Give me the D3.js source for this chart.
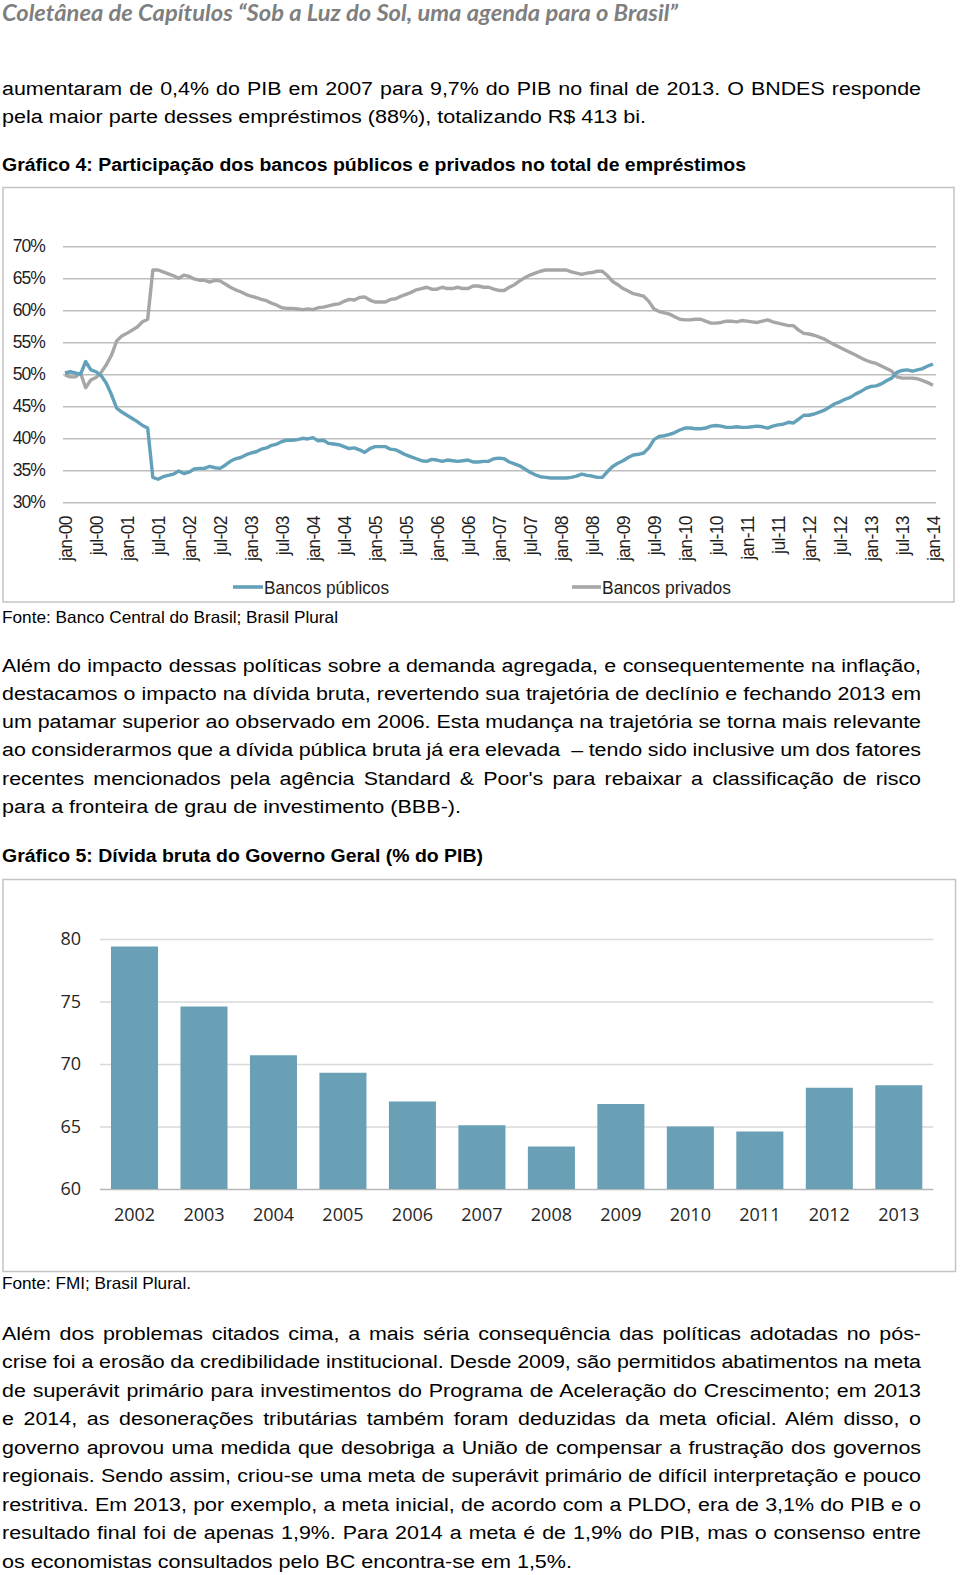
<!DOCTYPE html>
<html><head><meta charset="utf-8">
<script src="https://cdn.jsdelivr.net/npm/d3@7"></script>
<style>
body{margin:0;background:#fff}
svg text{white-space:pre}
</style></head>
<body>
<script>
// ---------- DATA ----------
const headerText = "Coletânea de Capítulos “Sob a Luz do Sol, uma agenda para o Brasil”";
const para1 = [
 "aumentaram de 0,4% do PIB em 2007 para 9,7% do PIB no final de 2013. O BNDES responde",
 "pela maior parte desses empréstimos (88%), totalizando R$ 413 bi."
];
const title4 = "Gráfico 4: Participação dos bancos públicos e privados no total de empréstimos";
const source4 = "Fonte: Banco Central do Brasil; Brasil Plural";
const para2 = [
 "Além do impacto dessas políticas sobre a demanda agregada, e consequentemente na inflação,",
 "destacamos o impacto na dívida bruta, revertendo sua trajetória de declínio e fechando 2013 em",
 "um patamar superior ao observado em 2006. Esta mudança na trajetória se torna mais relevante",
 "ao considerarmos que a dívida pública bruta já era elevada  – tendo sido inclusive um dos fatores",
 "recentes mencionados pela agência Standard & Poor's para rebaixar a classificação de risco",
 "para a fronteira de grau de investimento (BBB-)."
];
const title5 = "Gráfico 5: Dívida bruta do Governo Geral (% do PIB)";
const source5 = "Fonte: FMI; Brasil Plural.";
const para3 = [
 "Além dos problemas citados cima, a mais séria consequência das políticas adotadas no pós-",
 "crise foi a erosão da credibilidade institucional. Desde 2009, são permitidos abatimentos na meta",
 "de superávit primário para investimentos do Programa de Aceleração do Crescimento; em 2013",
 "e 2014, as desonerações tributárias também foram deduzidas da meta oficial. Além disso, o",
 "governo aprovou uma medida que desobriga a União de compensar a frustração dos governos",
 "regionais. Sendo assim, criou-se uma meta de superávit primário de difícil interpretação e pouco",
 "restritiva. Em 2013, por exemplo, a meta inicial, de acordo com a PLDO, era de 3,1% do PIB e o",
 "resultado final foi de apenas 1,9%. Para 2014 a meta é de 1,9% do PIB, mas o consenso entre",
 "os economistas consultados pelo BC encontra-se em 1,5%."
];

// Chart 4: monthly shares jan-00 .. jan-14 (%)
const monthTickLabels = ["jan-00","jul-00","jan-01","jul-01","jan-02","jul-02","jan-03","jul-03","jan-04","jul-04",
 "jan-05","jul-05","jan-06","jul-06","jan-07","jul-07","jan-08","jul-08","jan-09","jul-09",
 "jan-10","jul-10","jan-11","jul-11","jan-12","jul-12","jan-13","jul-13","jan-14"];
const seriesNames = ["Bancos públicos","Bancos privados"];
const publicShare = [
 50.2,50.4,50.2,50.0,52.0,50.7,50.4,49.8,48.6,46.8,44.7,44.1,
 43.6,43.1,42.6,42.0,41.6,33.9,33.6,34.0,34.2,34.4,34.9,34.5,
 34.7,35.2,35.3,35.3,35.6,35.4,35.3,35.8,36.4,36.8,37.0,37.4,
 37.7,37.9,38.3,38.5,38.9,39.1,39.5,39.7,39.7,39.8,40.0,39.9,
 40.1,39.6,39.7,39.2,39.1,39.0,38.7,38.4,38.5,38.2,37.8,38.4,
 38.7,38.7,38.7,38.3,38.2,37.8,37.4,37.1,36.8,36.5,36.4,36.7,
 36.6,36.4,36.6,36.5,36.4,36.5,36.6,36.3,36.3,36.4,36.4,36.8,
 36.9,36.8,36.3,36.0,35.7,35.2,34.7,34.3,34.0,33.9,33.8,33.8,
 33.8,33.8,33.9,34.1,34.4,34.2,34.1,33.9,33.9,34.8,35.6,36.1,
 36.5,37.0,37.4,37.5,37.7,38.5,39.8,40.3,40.4,40.6,40.9,41.3,
 41.6,41.6,41.5,41.5,41.6,41.9,42.0,41.9,41.7,41.7,41.8,41.7,
 41.7,41.8,41.9,41.8,41.6,41.9,42.1,42.2,42.5,42.4,43.0,43.6,
 43.6,43.8,44.1,44.4,44.9,45.4,45.7,46.1,46.4,46.9,47.3,47.8,
 48.1,48.2,48.5,49.0,49.4,50.3,50.6,50.7,50.5,50.7,50.9,51.3,
 51.6
];
const privateShare = [
 49.9,49.6,49.6,50.2,47.9,49.1,49.5,50.3,51.5,53.0,55.2,56.0,
 56.4,56.9,57.4,58.2,58.6,66.3,66.3,66.0,65.7,65.4,65.0,65.5,
 65.3,64.9,64.7,64.7,64.4,64.7,64.6,64.1,63.6,63.2,62.9,62.5,
 62.2,62.0,61.7,61.5,61.1,60.8,60.4,60.3,60.3,60.2,60.1,60.2,
 60.1,60.4,60.5,60.7,60.9,61.0,61.4,61.7,61.6,62.0,62.1,61.6,
 61.3,61.3,61.3,61.7,61.8,62.2,62.5,62.8,63.2,63.4,63.6,63.3,
 63.3,63.6,63.4,63.4,63.6,63.4,63.4,63.8,63.8,63.6,63.6,63.3,
 63.1,63.1,63.6,64.0,64.6,65.1,65.5,65.8,66.1,66.3,66.3,66.3,
 66.3,66.3,66.0,65.8,65.6,65.8,65.9,66.1,66.1,65.4,64.5,64.0,
 63.4,63.0,62.6,62.4,62.2,61.4,60.2,59.8,59.6,59.4,59.0,58.6,
 58.5,58.5,58.6,58.6,58.3,58.0,58.0,58.1,58.3,58.3,58.2,58.4,
 58.3,58.2,58.1,58.3,58.5,58.2,58.0,57.8,57.6,57.6,56.9,56.4,
 56.3,56.1,55.8,55.5,55.0,54.6,54.2,53.8,53.4,53.0,52.6,52.2,
 51.9,51.7,51.3,50.9,50.5,49.6,49.4,49.4,49.4,49.3,49.0,48.7,
 48.3
];
const shareTicks = [30,35,40,45,50,55,60,65,70];

// Chart 5: gross debt (% of GDP)
const debtYears = ["2002","2003","2004","2005","2006","2007","2008","2009","2010","2011","2012","2013"];
const debtValues = [79.4,74.6,70.7,69.3,67.0,65.1,63.4,66.8,65.0,64.6,68.1,68.3];
const debtTicks = [60,65,70,75,80];

// ---------- DRAW ----------
const W = 960, H = 1575;
const svg = d3.select("body").append("svg").attr("width", W).attr("height", H)
  .style("display","block").style("font-family","'Liberation Sans', Arial, sans-serif");
svg.append("rect").attr("width", W).attr("height", H).attr("fill", "#fff");

const SX = 1.19; // horizontal stretch of body text
function bodyLine(str, x, y, target, justify, opts = {}) {
  const size = opts.size || 18;
  const sx = opts.sx || SX;
  const t = svg.append("text")
    .attr("transform", `translate(${x},${y}) scale(${sx},1)`)
    .attr("font-size", size).attr("fill", opts.fill || "#000")
    .attr("font-weight", opts.weight || "normal")
    .attr("font-style", opts.style || "normal")
    .style("font-family", opts.family || null)
    .text(str);
  const w = t.node().getComputedTextLength();
  if (justify) {
    const n = (str.match(/ /g) || []).length;
    t.attr("word-spacing", (target / sx - w) / n);
  } else {
    t.attr("textLength", target / sx).attr("lengthAdjust", "spacingAndGlyphs");
  }
  return t;
}
function paragraph(lines, y0, step, lastWidth) {
  lines.forEach((s, i) => {
    const last = i === lines.length - 1;
    bodyLine(s, 2, y0 + i * step, last ? lastWidth : 919, !last);
  });
}

// header
bodyLine(headerText, 2, 21, 676, false, {size: 22, weight: "bold", style: "italic", fill: "#7f7f7f", family: "Lato, 'Open Sans', sans-serif", sx: 1});

paragraph(para1, 95, 28.3, 644);
bodyLine(title4, 2, 170.5, 744, false, {weight: "bold"});

// ---- Chart 4 ----
svg.append("rect").attr("x", 3).attr("y", 187.5).attr("width", 951).attr("height", 414.5)
  .attr("fill", "none").attr("stroke", "#c4c4c4").attr("stroke-width", 1.5);

const x4 = d3.scaleLinear().domain([0, 168]).range([65, 933]);
const y4 = d3.scaleLinear().domain([30, 70]).range([502.3, 246.3]);

const gy4 = svg.append("g").attr("transform", "translate(63,0)")
  .call(d3.axisLeft(y4).tickValues(shareTicks).tickSize(-873).tickPadding(18).tickFormat(d => d + "%"));
gy4.select(".domain").remove();
gy4.selectAll(".tick line").attr("stroke", "#bdbdbd").attr("stroke-width", 1.6);
gy4.selectAll(".tick text").attr("font-size", 17.5).attr("letter-spacing", -0.9)
  .attr("fill", "#1e1e1e").style("font-family", "'Liberation Sans', Arial, sans-serif");

const gx4 = svg.append("g").attr("transform", "translate(0,504)")
  .call(d3.axisBottom(x4).tickValues(d3.range(0, 169, 6)).tickSize(0)
    .tickFormat((d, i) => monthTickLabels[i]));
gx4.select(".domain").remove();
gx4.selectAll(".tick text").attr("transform", "rotate(-90)").attr("text-anchor", "end")
  .attr("x", -12).attr("y", 0).attr("dy", "0.36em")
  .attr("font-size", 17.5).attr("letter-spacing", -0.6).attr("fill", "#1e1e1e")
  .style("font-family", "'Liberation Sans', Arial, sans-serif");

const lineGen = d3.line().x((d, i) => x4(i)).y(d => y4(d));
const colors4 = ["#62a1b9", "#a6a6a6"];
svg.append("path").datum(privateShare).attr("d", lineGen).attr("fill", "none")
  .attr("stroke", colors4[1]).attr("stroke-width", 3.4).attr("stroke-linejoin", "round");
svg.append("path").datum(publicShare).attr("d", lineGen).attr("fill", "none")
  .attr("stroke", colors4[0]).attr("stroke-width", 3.4).attr("stroke-linejoin", "round");

// legend
const legendItems = [{x: 233, tx: 264, w: 125}, {x: 572, tx: 602, w: 129}];
legendItems.forEach((L, i) => {
  svg.append("line").attr("x1", L.x).attr("x2", L.tx - 1).attr("y1", 587).attr("y2", 587)
    .attr("stroke", colors4[i]).attr("stroke-width", 3.6);
  svg.append("text").attr("x", L.tx).attr("y", 594).attr("font-size", 18.5).attr("fill", "#1e1e1e")
    .attr("textLength", L.w).attr("lengthAdjust", "spacingAndGlyphs").text(seriesNames[i]);
});

bodyLine(source4, 2, 623, 336, false, {size: 16.5, sx: 1});

paragraph(para2, 671.5, 28.3, 459);
bodyLine(title5, 2, 862, 481, false, {weight: "bold"});

// ---- Chart 5 ----
svg.append("rect").attr("x", 3).attr("y", 879.5).attr("width", 952.5).attr("height", 392)
  .attr("fill", "none").attr("stroke", "#c4c4c4").attr("stroke-width", 1.5);

const x5 = d3.scaleBand().domain(debtYears).range([100, 933.3]).paddingInner(0.323).paddingOuter(0.158);
const y5 = d3.scaleLinear().domain([60, 80]).range([1189, 939]);

const gy5 = svg.append("g").attr("transform", "translate(100,0)")
  .call(d3.axisLeft(y5).tickValues(debtTicks).tickSize(-833.3).tickPadding(19));
gy5.select(".domain").remove();
gy5.selectAll(".tick line").attr("stroke", d => d === 60 ? "#b8b8b8" : "#d9d9d9").attr("stroke-width", 1.6);
gy5.selectAll(".tick text").attr("font-size", 18).attr("fill", "#262626")
  .style("font-family", "'Open Sans', 'Noto Sans', sans-serif");

svg.append("g").selectAll("rect").data(debtValues).join("rect")
  .attr("x", (d, i) => x5(debtYears[i])).attr("width", x5.bandwidth())
  .attr("y", d => y5(d)).attr("height", d => y5(60) - y5(d)).attr("fill", "#6aa0b6");

const gx5 = svg.append("g").attr("transform", "translate(0,1189)")
  .call(d3.axisBottom(x5).tickSize(0).tickPadding(19));
gx5.select(".domain").remove();
gx5.selectAll(".tick text").attr("font-size", 18).attr("fill", "#262626")
  .style("font-family", "'Open Sans', 'Noto Sans', sans-serif");

bodyLine(source5, 2, 1288.5, 189, false, {size: 16.5, sx: 1});

paragraph(para3, 1339.5, 28.5, 570);
</script>
</body></html>
